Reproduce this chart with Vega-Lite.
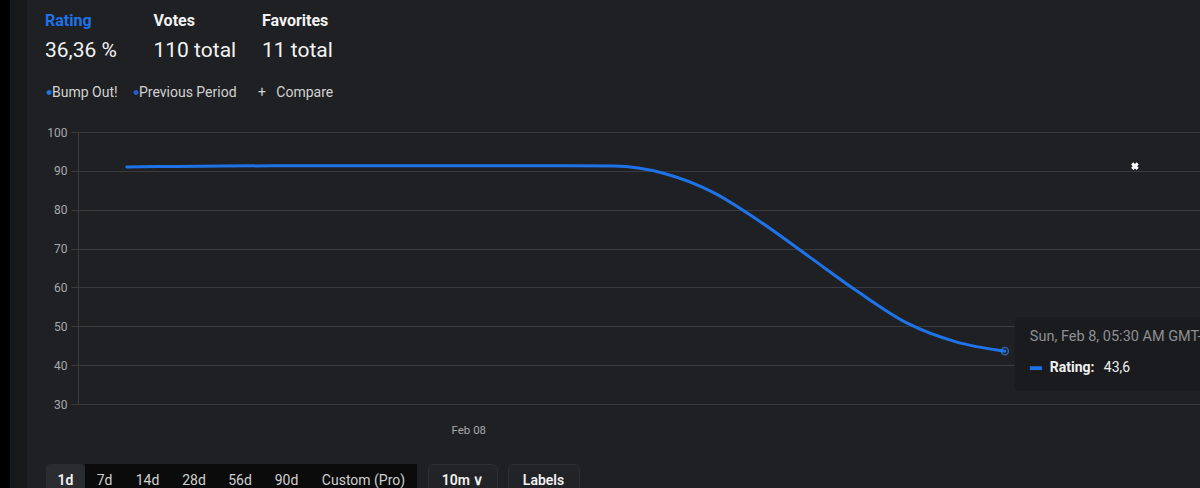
{
  "$schema": "https://vega.github.io/schema/vega-lite/v6.json",
  "usermeta": {"embedOptions": {"actions": false}},
  "padding": 0,
  "background": "#1f2023",
  "spacing": 0,
  "config": {
    "view": {"stroke": null},
    "font": "Roboto",
    "locale": {"number": {"decimal": ",", "thousands": ".", "grouping": [3], "currency": ["", " €"]}}
  },
  "hconcat": [
    {"width": 10, "height": 488, "view": {"fill": "#000000", "stroke": null}, "data": {"values": [{}]}, "mark": {"type": "text", "text": ""}},
    {"width": 17, "height": 488, "view": {"fill": "#17181a", "stroke": null}, "data": {"values": [{}]}, "mark": {"type": "text", "text": ""}},
    {
      "spacing": 0,
      "vconcat": [
        {
          "width": 253,
          "height": 72,
          "data": {"values": [
            {"metric": "Rating", "row": "label", "text": "Rating"},
            {"metric": "Votes", "row": "label", "text": "Votes"},
            {"metric": "Favorites", "row": "label", "text": "Favorites"},
            {"metric": "Rating", "row": "value", "text": "36,36 %"},
            {"metric": "Votes", "row": "value", "text": "110 total"},
            {"metric": "Favorites", "row": "value", "text": "11 total"}
          ]},
          "encoding": {
            "x": {"field": "metric", "type": "nominal", "scale": {"type": "point", "domain": ["Rating", "Votes", "Favorites"], "padding": 0.166}, "axis": null},
            "y": {"field": "row", "type": "nominal", "scale": {"type": "point", "domain": ["label", "value"], "padding": 0.73}, "axis": null},
            "text": {"field": "text"}
          },
          "layer": [
            {
              "transform": [{"filter": "datum.row === 'label'"}],
              "mark": {"type": "text", "align": "left", "baseline": "middle", "fontSize": 16, "fontWeight": "bold"},
              "encoding": {"color": {"condition": {"test": "datum.metric === 'Rating'", "value": "#1e73e8"}, "value": "#f2f2f2"}}
            },
            {
              "transform": [{"filter": "datum.row === 'value'"}],
              "mark": {"type": "text", "align": "left", "baseline": "middle", "fontSize": 21, "color": "#f2f2f2"}
            }
          ]
        },
        {"width": 1, "height": 54, "data": {"values": [{}]}, "mark": {"type": "text", "text": ""}},
        {
          "spacing": 0,
          "hconcat": [
            {"width": 1, "height": 1, "data": {"values": [{}]}, "mark": {"type": "text", "text": ""}},
            {
              "width": 1122,
              "height": 272,
              "layer": [
                {
                  "data": {"values": [
                    {"time": "2026-02-07T20:30:00", "value": 91.0, "series": "Bump Out!"},
                    {"time": "2026-02-07T21:00:00", "value": 91.15, "series": "Bump Out!"},
                    {"time": "2026-02-07T21:30:00", "value": 91.25, "series": "Bump Out!"},
                    {"time": "2026-02-07T22:00:00", "value": 91.3, "series": "Bump Out!"},
                    {"time": "2026-02-07T22:30:00", "value": 91.3, "series": "Bump Out!"},
                    {"time": "2026-02-07T23:00:00", "value": 91.3, "series": "Bump Out!"},
                    {"time": "2026-02-07T23:30:00", "value": 91.3, "series": "Bump Out!"},
                    {"time": "2026-02-08T00:00:00", "value": 91.3, "series": "Bump Out!"},
                    {"time": "2026-02-08T00:30:00", "value": 91.3, "series": "Bump Out!"},
                    {"time": "2026-02-08T01:00:00", "value": 91.3, "series": "Bump Out!"},
                    {"time": "2026-02-08T01:30:00", "value": 91.25, "series": "Bump Out!"},
                    {"time": "2026-02-08T02:00:00", "value": 89.4, "series": "Bump Out!"},
                    {"time": "2026-02-08T02:30:00", "value": 84.6, "series": "Bump Out!"},
                    {"time": "2026-02-08T03:00:00", "value": 76.8, "series": "Bump Out!"},
                    {"time": "2026-02-08T03:30:00", "value": 67.8, "series": "Bump Out!"},
                    {"time": "2026-02-08T04:00:00", "value": 58.8, "series": "Bump Out!"},
                    {"time": "2026-02-08T04:30:00", "value": 50.8, "series": "Bump Out!"},
                    {"time": "2026-02-08T05:00:00", "value": 46.0, "series": "Bump Out!"},
                    {"time": "2026-02-08T05:30:00", "value": 43.6, "series": "Bump Out!"}
                  ]},
                  "mark": {"type": "line", "interpolate": "monotone", "strokeWidth": 3, "strokeCap": "round"},
                  "encoding": {
                    "x": {
                      "field": "time", "type": "temporal",
                      "scale": {"domain": [{"year": 2026, "month": 2, "date": 7, "hours": 20}, {"year": 2026, "month": 2, "date": 8, "hours": 7, "minutes": 30}]},
                      "axis": {"title": null, "values": [{"year": 2026, "month": 2, "date": 8}], "tickCount": 5, "format": "%b %d", "labelColor": "#a8a8ab", "labelFontSize": 11.5, "ticks": false, "tickSize": 0, "domain": false, "grid": false, "labelPadding": 20, "minExtent": 30, "maxExtent": 30}
                    },
                    "y": {
                      "field": "value", "type": "quantitative",
                      "scale": {"domain": [30, 100], "nice": false, "zero": false},
                      "axis": {"title": null, "values": [30, 40, 50, 60, 70, 80, 90, 100], "tickCount": 10, "grid": true, "gridColor": "#3a3b3f", "domain": true, "domainColor": "#3a3b3f", "tickColor": "#3a3b3f", "tickSize": 7, "labelPadding": 4, "labelColor": "#a8a8ab", "labelFontSize": 12, "labelOverlap": false, "minExtent": 50, "maxExtent": 50}
                    },
                    "color": {
                      "field": "series", "type": "nominal",
                      "scale": {"domain": ["Bump Out!", "Previous Period", "Compare"], "range": ["#1e73e8", "#2160cc", "transparent"]},
                      "legend": {"orient": "none", "legendX": 42, "legendY": 85.5, "direction": "horizontal", "title": null, "symbolType": "circle", "symbolSize": 6, "symbolStrokeWidth": 2.6, "labelFontSize": 14, "labelColor": "#d2d2d2", "labelFont": "Roboto", "labelOffset": -4, "columnPadding": 11, "padding": 0, "labelExpr": "datum.value === 'Compare' ? '+\u00a0\u00a0\u00a0Compare' : datum.value"}
                    }
                  }
                },
                {
                  "data": {"values": [{"time": "2026-02-08T05:30:00", "value": 43.6}]},
                  "mark": {"type": "rect", "width": 200, "height": 74, "xOffset": 110, "yOffset": 3, "fill": "#1a1b1e", "cornerRadius": 4},
                  "encoding": {"x": {"field": "time", "type": "temporal"}, "y": {"field": "value", "type": "quantitative"}}
                },
                {
                  "data": {"values": [{"time": "2026-02-08T05:30:00", "value": 43.6}]},
                  "mark": {"type": "point", "filled": false, "stroke": "#3b7ddd", "strokeWidth": 1.5, "size": 50},
                  "encoding": {"x": {"field": "time", "type": "temporal"}, "y": {"field": "value", "type": "quantitative"}}
                },
                {
                  "data": {"values": [{"time": "2026-02-08T05:30:00", "value": 43.6}]},
                  "mark": {"type": "text", "align": "left", "baseline": "middle", "dx": 25, "dy": -14, "fontSize": 14.5, "color": "#8e8f93"},
                  "encoding": {"x": {"field": "time", "type": "temporal"}, "y": {"field": "value", "type": "quantitative"}, "text": {"field": "time", "type": "temporal", "format": "%a, %b %-d, %I:%M %p GMT-5"}}
                },
                {
                  "data": {"values": [{"time": "2026-02-08T05:30:00", "value": 43.6}]},
                  "mark": {"type": "point", "shape": "M-1,-0.32H1V0.32H-1Z", "size": 144, "filled": true, "fill": "#1e73e8", "strokeWidth": 0, "opacity": 1, "xOffset": 31, "yOffset": 17},
                  "encoding": {"x": {"field": "time", "type": "temporal"}, "y": {"field": "value", "type": "quantitative"}}
                },
                {
                  "data": {"values": [{"time": "2026-02-08T05:30:00", "value": 43.6}]},
                  "mark": {"type": "text", "align": "left", "baseline": "middle", "dx": 45, "dy": 17, "fontSize": 14, "fontWeight": "bold", "color": "#f0f0f0", "text": "Rating:"},
                  "encoding": {"x": {"field": "time", "type": "temporal"}, "y": {"field": "value", "type": "quantitative"}}
                },
                {
                  "data": {"values": [{"time": "2026-02-08T05:30:00", "value": 43.6}]},
                  "mark": {"type": "text", "align": "left", "baseline": "middle", "dx": 99, "dy": 17, "fontSize": 14, "color": "#f0f0f0"},
                  "encoding": {"x": {"field": "time", "type": "temporal"}, "y": {"field": "value", "type": "quantitative"}, "text": {"field": "value", "type": "quantitative", "format": ".1f"}}
                },
                {
                  "data": {"values": [{"time": "2026-02-08T06:50:00", "value": 91.2}]},
                  "mark": {"type": "point", "shape": "cross", "angle": 45, "size": 60, "filled": true, "fill": "#ffffff", "strokeWidth": 0, "opacity": 1},
                  "encoding": {"x": {"field": "time", "type": "temporal"}, "y": {"field": "value", "type": "quantitative"}}
                }
              ]
            }
          ]
        },
        {"width": 1, "height": 26.5, "data": {"values": [{}]}, "mark": {"type": "text", "text": ""}},
        {
          "spacing": 0,
          "hconcat": [
            {"width": 19, "height": 33, "data": {"values": [{}]}, "mark": {"type": "text", "text": ""}},
            {"width": 39, "height": 33, "view": {"fill": "#2b2c30", "stroke": null, "cornerRadius": 5}, "data": {"values": [{"label": "1d"}]}, "mark": {"type": "text", "fontSize": 14, "fontWeight": 600, "color": "#f2f2f2"}, "encoding": {"text": {"field": "label"}}},
            {"width": 39, "height": 33, "view": {"fill": "#0b0b0c", "stroke": null}, "data": {"values": [{"label": "7d"}]}, "mark": {"type": "text", "fontSize": 14, "color": "#cfcfcf"}, "encoding": {"text": {"field": "label"}}},
            {"width": 47, "height": 33, "view": {"fill": "#0b0b0c", "stroke": null}, "data": {"values": [{"label": "14d"}]}, "mark": {"type": "text", "fontSize": 14, "color": "#cfcfcf"}, "encoding": {"text": {"field": "label"}}},
            {"width": 46, "height": 33, "view": {"fill": "#0b0b0c", "stroke": null}, "data": {"values": [{"label": "28d"}]}, "mark": {"type": "text", "fontSize": 14, "color": "#cfcfcf"}, "encoding": {"text": {"field": "label"}}},
            {"width": 46, "height": 33, "view": {"fill": "#0b0b0c", "stroke": null}, "data": {"values": [{"label": "56d"}]}, "mark": {"type": "text", "fontSize": 14, "color": "#cfcfcf"}, "encoding": {"text": {"field": "label"}}},
            {"width": 47, "height": 33, "view": {"fill": "#0b0b0c", "stroke": null}, "data": {"values": [{"label": "90d"}]}, "mark": {"type": "text", "fontSize": 14, "color": "#cfcfcf"}, "encoding": {"text": {"field": "label"}}},
            {"width": 107, "height": 33, "view": {"fill": "#0b0b0c", "stroke": null}, "data": {"values": [{"label": "Custom (Pro)"}]}, "mark": {"type": "text", "fontSize": 14, "color": "#cfcfcf"}, "encoding": {"text": {"field": "label"}}},
            {"width": 10, "height": 33, "data": {"values": [{}]}, "mark": {"type": "text", "text": ""}},
            {"width": 69, "height": 33, "view": {"fill": "#222327", "stroke": "#2e2f33", "cornerRadius": 5}, "data": {"values": [{"label": "10m \u2228"}]}, "mark": {"type": "text", "fontSize": 14, "fontWeight": 600, "color": "#f2f2f2"}, "encoding": {"text": {"field": "label"}}},
            {"width": 9, "height": 33, "data": {"values": [{}]}, "mark": {"type": "text", "text": ""}},
            {"width": 71, "height": 33, "view": {"fill": "#222327", "stroke": "#2e2f33", "cornerRadius": 5}, "data": {"values": [{"label": "Labels"}]}, "mark": {"type": "text", "fontSize": 14, "fontWeight": 600, "color": "#f2f2f2"}, "encoding": {"text": {"field": "label"}}}
          ]
        }
      ]
    }
  ]
}
